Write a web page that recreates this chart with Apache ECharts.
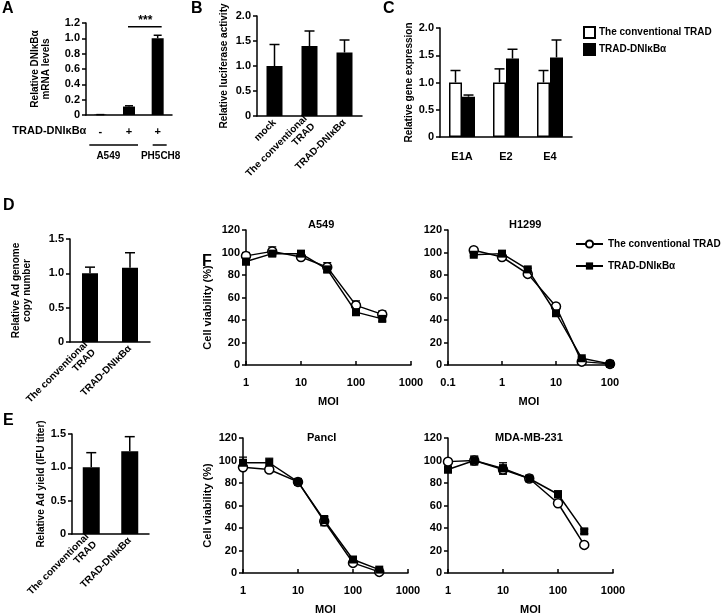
<!DOCTYPE html>
<html>
<head>
<meta charset="utf-8">
<script src="https://cdn.jsdelivr.net/npm/echarts@6/dist/echarts.min.js"></script>
<style>
html,body{margin:0;padding:0;background:#fff}
#main{width:725px;height:616px}
</style>
</head>
<body>
<div id="main"></div>
<script>
// ---- data ----
// A
var aCats = ['ctrl', 'a549', 'ph5ch8'];
var aSigns = ['-', '+', '+'];
var aVals = [0.005, 0.11, 1.0];
var aErr = [0, 0.01, 0.04];
// B
var bCats = ['mock', 'The conventional\nTRAD', 'TRAD-DNIκBα'];
var bVals = [1.0, 1.4, 1.27];
var bErr = [0.43, 0.3, 0.25];
// C
var cCats = ['E1A', 'E2', 'E4'];
var cConv = [1.0, 1.0, 1.0];
var cConvErr = [0.22, 0.25, 0.22];
var cDni = [0.74, 1.44, 1.46];
var cDniErr = [0.03, 0.17, 0.32];
// D, E
var deCats = ['The conventional\nTRAD', 'TRAD-DNIκBα'];
var dVals = [1.0, 1.08];
var dErr = [0.09, 0.22];
var eVals = [1.0, 1.24];
var eErr = [0.22, 0.22];
// F
var moiA549 = [1, 3, 10, 30, 100, 300];
var a549Conv = [97, 101, 96, 87, 53, 45];
var a549ConvErr = [3, 4, 2, 4, 4, 3];
var a549Dni = [92, 99, 99, 85, 47, 41];
var a549DniErr = [3, 2, 2, 3, 3, 2];
var moiH1299 = [0.3, 1, 3, 10, 30, 100];
var h1299Conv = [102, 96, 81, 52, 3, 1];
var h1299ConvErr = [1, 1, 1, 1, 1, 1];
var h1299Dni = [98, 99, 85, 46, 6, 1];
var h1299DniErr = [1, 1, 1, 1, 1, 1];
var moiPancI = [1, 3, 10, 30, 100, 300];
var pancConv = [94, 92, 81, 46, 9, 1];
var pancConvErr = [2, 2, 2, 4, 2, 1];
var pancDni = [98, 98, 81, 47, 12, 3];
var pancDniErr = [5, 4, 2, 4, 2, 1];
var moiMda = [1, 3, 10, 30, 100, 300];
var mdaConv = [99, 100, 92, 84, 62, 25];
var mdaConvErr = [2, 3, 4, 2, 2, 2];
var mdaDni = [92, 100, 93, 84, 70, 37];
var mdaDniErr = [3, 4, 5, 2, 3, 2];

var FONT = '"Liberation Sans", Arial, sans-serif';
var BLK = '#000';
var txt = {color: BLK, fontWeight: 'bold', fontSize: 10, fontFamily: FONT};
var tick = {color: BLK, fontWeight: 'bold', fontSize: 11, fontFamily: FONT};

function dec(v) { return v === 0 ? '0' : v.toFixed(1); }
function intFmt(v) { return String(v); }

// 坐标轴
function catX(gi, cats, label) {
	return {
		type: 'category', gridIndex: gi, data: cats,
		axisLine: {lineStyle: {color: BLK, width: 1.5}},
		axisTick: {inside: true, length: 4, lineStyle: {color: BLK, width: 1.5}},
		axisLabel: label,
		splitLine: {show: false}
	};
}
function valY(gi, max, step, name, gap, fmt, nameSize, namePad) {
	return {
		type: 'value', gridIndex: gi, min: 0, max: max, interval: step,
		name: name, nameLocation: 'middle', nameGap: gap, nameRotate: 90,
		nameTextStyle: Object.assign({}, txt, {lineHeight: 11, fontSize: nameSize || 10, padding: namePad || 0}),
		axisLine: {show: true, lineStyle: {color: BLK, width: 1.5}},
		axisTick: {show: true, length: 4, lineStyle: {color: BLK, width: 1.5}},
		axisLabel: Object.assign({margin: 6, formatter: fmt || dec}, tick),
		splitLine: {show: false}
	};
}
function logX(gi, min, max) {
	return {
		type: 'log', logBase: 10, gridIndex: gi, min: min, max: max,
		name: 'MOI', nameLocation: 'middle', nameGap: 31, nameTextStyle: tick,
		axisLine: {lineStyle: {color: BLK, width: 1.5}},
		axisTick: {inside: true, length: 4, lineStyle: {color: BLK, width: 1.5}},
		axisLabel: Object.assign({margin: 12, formatter: function (v) { return String(v); }}, tick),
		splitLine: {show: false}, minorTick: {show: false}
	};
}

// 误差线
function errBars(axis, vals, errs, off, cap) {
	return {
		type: 'custom', xAxisIndex: axis, yAxisIndex: axis, z: 1, silent: true,
		data: vals.map(function (v, i) { return [i, v, v + errs[i]]; }),
		renderItem: function (params, api) {
			var lo = api.coord([api.value(0), api.value(1)]);
			var hi = api.coord([api.value(0), api.value(2)]);
			var x = lo[0] + off;
			var st = {stroke: BLK, lineWidth: 1.5};
			return {type: 'group', children: [
				{type: 'line', shape: {x1: x, y1: lo[1], x2: x, y2: hi[1]}, style: st},
				{type: 'line', shape: {x1: x - cap, y1: hi[1], x2: x + cap, y2: hi[1]}, style: st}
			]};
		}
	};
}
function errLog(axis, xs, vals, errs) {
	return {
		type: 'custom', xAxisIndex: axis, yAxisIndex: axis, z: 1, silent: true,
		data: vals.map(function (v, i) { return [xs[i], v, v - errs[i], v + errs[i]]; }),
		renderItem: function (params, api) {
			var lo = api.coord([api.value(0), api.value(2)]);
			var hi = api.coord([api.value(0), api.value(3)]);
			var st = {stroke: BLK, lineWidth: 1.3};
			return {type: 'group', children: [
				{type: 'line', shape: {x1: lo[0], y1: lo[1], x2: hi[0], y2: hi[1]}, style: st},
				{type: 'line', shape: {x1: hi[0] - 4, y1: hi[1], x2: hi[0] + 4, y2: hi[1]}, style: st},
				{type: 'line', shape: {x1: lo[0] - 4, y1: lo[1], x2: lo[0] + 4, y2: lo[1]}, style: st}
			]};
		}
	};
}
function blackBar(axis, name, vals, w) {
	return {type: 'bar', name: name, xAxisIndex: axis, yAxisIndex: axis, data: vals, barWidth: w,
		itemStyle: {color: BLK}, z: 2};
}
function pairXY(xs, ys) { return xs.map(function (x, i) { return [x, ys[i]]; }); }
function convLine(axis, xs, ys) {
	return {type: 'line', name: 'The conventional TRAD', xAxisIndex: axis, yAxisIndex: axis,
		data: pairXY(xs, ys), symbol: 'circle', symbolSize: 9, z: 3,
		lineStyle: {color: BLK, width: 1.5},
		itemStyle: {color: '#fff', borderColor: BLK, borderWidth: 1.5}};
}
function dniLine(axis, xs, ys) {
	return {type: 'line', name: 'TRAD-DNIκBα', xAxisIndex: axis, yAxisIndex: axis,
		data: pairXY(xs, ys), symbol: 'rect', symbolSize: 8, z: 4,
		lineStyle: {color: BLK, width: 1.5},
		itemStyle: {color: BLK}};
}

var letter = {fontSize: 16, fontWeight: 'bold', color: BLK, fontFamily: FONT};
var sub = {fontSize: 11, fontWeight: 'bold', color: BLK, fontFamily: FONT};
var rotLabel = Object.assign({interval: 0, margin: 5, rotate: 45, lineHeight: 11}, txt);

var option = {
	animation: false,
	backgroundColor: '#fff',
	title: [
		{text: 'A', left: 2, top: 1, textStyle: letter, padding: 0},
		{text: 'B', left: 191, top: 1, textStyle: letter, padding: 0},
		{text: 'C', left: 383, top: 1, textStyle: letter, padding: 0},
		{text: 'D', left: 3, top: 198, textStyle: letter, padding: 0},
		{text: 'E', left: 3, top: 413, textStyle: letter, padding: 0},
		{text: 'F', left: 202, top: 254, textStyle: letter, padding: 0},
		{text: 'A549', left: 308, top: 219, textStyle: sub, padding: 0},
		{text: 'H1299', left: 509, top: 219, textStyle: sub, padding: 0},
		{text: 'PancI', left: 307, top: 432, textStyle: sub, padding: 0},
		{text: 'MDA-MB-231', left: 495, top: 432, textStyle: sub, padding: 0}
	],
	legend: [
		{
			data: ['The conventional TRAD ', 'TRAD-DNIκBα '],
			orient: 'vertical', left: 583, top: 26, itemGap: 4, padding: 0,
			itemWidth: 11, itemHeight: 11, icon: 'rect',
			textStyle: Object.assign({}, txt, {padding: [0, 0, 0, -1]}),
			formatter: function (n) { return n.trim(); }
		},
		{
			data: ['The conventional TRAD', 'TRAD-DNIκBα'],
			orient: 'vertical', left: 575, top: 239, itemGap: 12, padding: 0,
			itemWidth: 27, itemHeight: 9,
			textStyle: txt
		}
	],
	grid: [
		{left: 86, top: 23, width: 86, height: 92},
		{left: 257, top: 16, width: 105, height: 100},
		{left: 440, top: 28, width: 132, height: 109},
		{left: 70, top: 239, width: 80, height: 103},
		{left: 72, top: 434, width: 77, height: 100},
		{left: 246, top: 230, width: 165, height: 135},
		{left: 448, top: 230, width: 162, height: 135},
		{left: 243, top: 438, width: 165, height: 137},
		{left: 448, top: 438, width: 165, height: 137}
	],
	xAxis: [
		catX(0, aCats, Object.assign({interval: 0, margin: 11,
			formatter: function (v, i) { return aSigns[i]; }}, tick)),
		catX(1, bCats, rotLabel),
		catX(2, cCats, Object.assign({interval: 0, margin: 14}, tick)),
		catX(3, deCats, rotLabel),
		catX(4, deCats, rotLabel),
		logX(5, 1, 1000),
		logX(6, 0.1, 100),
		logX(7, 1, 1000),
		logX(8, 1, 1000)
	],
	yAxis: [
		valY(0, 1.2, 0.2, 'Relative DNIκBα\nmRNA levels', 34),
		valY(1, 2, 0.5, 'Relative luciferase activity', 27),
		valY(2, 2, 0.5, 'Relative gene expression', 25),
		valY(3, 1.5, 0.5, 'Relative Ad genome\ncopy number', 37),
		valY(4, 1.5, 0.5, 'Relative Ad yield (IFU titer)', 25),
		valY(5, 120, 20, 'Cell viability (%)', 33, intFmt, 11, [0, 20, 0, 0]),
		valY(6, 120, 20, '', 30, intFmt),
		valY(7, 120, 20, 'Cell viability (%)', 30, intFmt, 11),
		valY(8, 120, 20, '', 30, intFmt)
	],
	series: [
		blackBar(0, 'a', aVals, 12),
		errBars(0, aVals, aErr, 0, 4),
		blackBar(1, 'b', bVals, 16),
		errBars(1, bVals, bErr, 0, 5),
		{type: 'bar', name: 'The conventional TRAD ', xAxisIndex: 2, yAxisIndex: 2, data: cConv,
			barWidth: 13, barGap: '0%', itemStyle: {color: '#fff', borderColor: BLK, borderWidth: 1.5}},
		{type: 'bar', name: 'TRAD-DNIκBα ', xAxisIndex: 2, yAxisIndex: 2, data: cDni,
			barWidth: 13, barGap: '0%', itemStyle: {color: BLK, borderColor: BLK, borderWidth: 1.5}},
		errBars(2, cConv, cConvErr, -6.5, 5),
		errBars(2, cDni, cDniErr, 6.5, 5),
		blackBar(3, 'd', dVals, 16),
		errBars(3, dVals, dErr, 0, 5),
		blackBar(4, 'e', eVals, 17),
		errBars(4, eVals, eErr, 0, 5),
		errLog(5, moiA549, a549Conv, a549ConvErr),
		errLog(5, moiA549, a549Dni, a549DniErr),
		convLine(5, moiA549, a549Conv),
		dniLine(5, moiA549, a549Dni),
		errLog(6, moiH1299, h1299Conv, h1299ConvErr),
		errLog(6, moiH1299, h1299Dni, h1299DniErr),
		convLine(6, moiH1299, h1299Conv),
		dniLine(6, moiH1299, h1299Dni),
		errLog(7, moiPancI, pancConv, pancConvErr),
		errLog(7, moiPancI, pancDni, pancDniErr),
		convLine(7, moiPancI, pancConv),
		dniLine(7, moiPancI, pancDni),
		errLog(8, moiMda, mdaConv, mdaConvErr),
		errLog(8, moiMda, mdaDni, mdaDniErr),
		convLine(8, moiMda, mdaConv),
		dniLine(8, moiMda, mdaDni)
	]
};

var chart = echarts.init(document.getElementById('main'));
chart.setOption(option);

// 面板A的注释
var p0 = chart.convertToPixel({xAxisIndex: 0, yAxisIndex: 0}, [0, 0]);
var p1 = chart.convertToPixel({xAxisIndex: 0, yAxisIndex: 0}, [1, 1.15]);
var p2 = chart.convertToPixel({xAxisIndex: 0, yAxisIndex: 0}, [2, 1.15]);
var lineSt = {stroke: BLK, lineWidth: 1.5};
var rowY = p0[1] + 16;
chart.setOption({
	graphic: [
		{type: 'text', x: p0[0] - 14, y: rowY, style: {text: 'TRAD-DNIκBα', align: 'right', verticalAlign: 'middle', fill: BLK, font: 'bold 11px ' + FONT}},
		{type: 'line', shape: {x1: p0[0] - 11, y1: rowY + 14, x2: p1[0] + 9, y2: rowY + 14}, style: lineSt},
		{type: 'line', shape: {x1: p2[0] - 5, y1: rowY + 14, x2: p2[0] + 9, y2: rowY + 14}, style: lineSt},
		{type: 'text', x: p0[0] + 8, y: rowY + 25, style: {text: 'A549', align: 'center', verticalAlign: 'middle', fill: BLK, font: 'bold 10px ' + FONT}},
		{type: 'text', x: p2[0] + 3, y: rowY + 25, style: {text: 'PH5CH8', align: 'center', verticalAlign: 'middle', fill: BLK, font: 'bold 10px ' + FONT}},
		{type: 'line', shape: {x1: p1[0] - 1, y1: p1[1], x2: p2[0] + 4, y2: p2[1]}, style: lineSt},
		{type: 'text', x: (p1[0] + p2[0]) / 2 + 2, y: p1[1] - 6, style: {text: '***', align: 'center', verticalAlign: 'middle', fill: BLK, font: 'bold 12px ' + FONT}}
	]
});
</script>
</body>
</html>
